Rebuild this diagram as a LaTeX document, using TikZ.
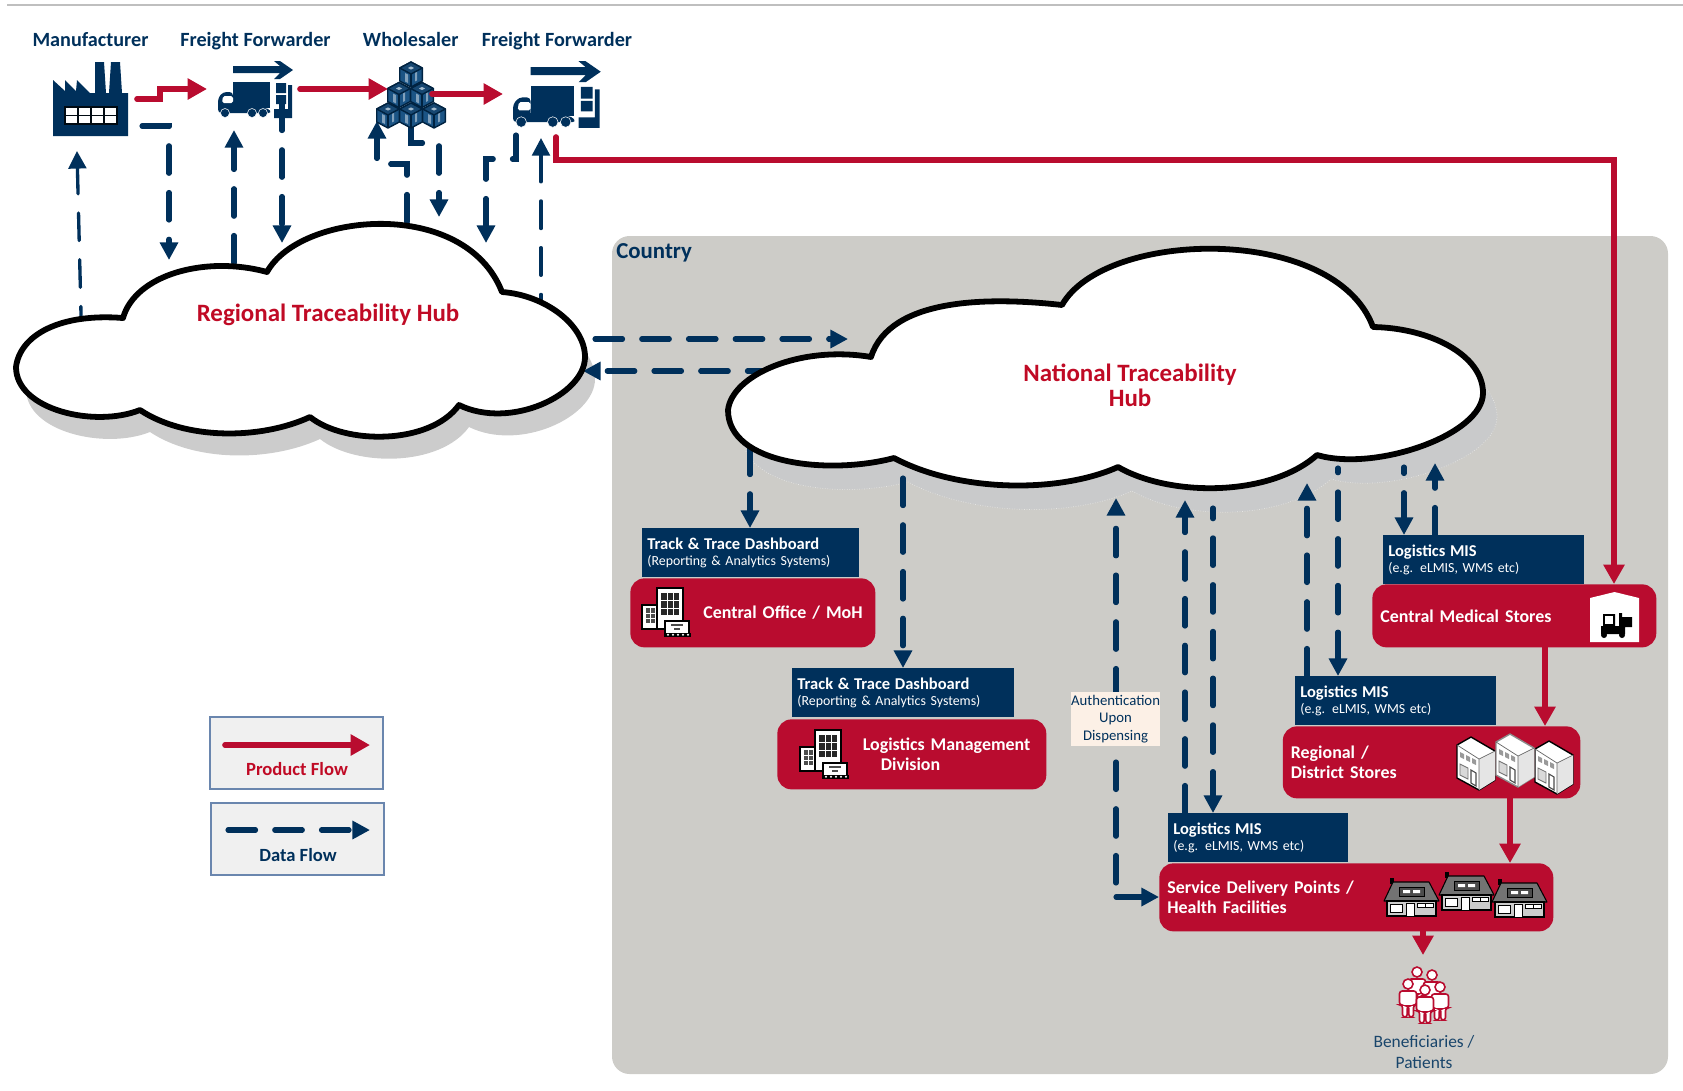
\documentclass[tikz,border=0pt]{standalone}
\usepackage{fontspec}
\setmainfont{Carlito}
\usetikzlibrary{arrows.meta, positioning, calc}
\definecolor{tracenavy}{HTML}{00305B}
\definecolor{tracered}{HTML}{B90C2F}
\definecolor{hubred}{HTML}{C00A25}
\definecolor{panelgrey}{HTML}{CDCCC8}
\definecolor{shadowgrey}{HTML}{C9CACB}
\definecolor{authfill}{HTML}{FCF0E6}
\definecolor{boxblue}{HTML}{1B5485}
\definecolor{legendedge}{HTML}{6A86AE}
\newcommand{\boxhead}[1]{{\fontsize{9.4}{9.6}\selectfont\bfseries #1}}
\newcommand{\regionalcloud}{(16,367) .. controls (20,335) and (60,313) .. (123,318) .. controls (135,275) and (205,255) .. (267,272) .. controls (300,212) and (465,197) .. (502,292) .. controls (545,295) and (585,325) .. (585,357) .. controls (585,395) and (510,430) .. (459,405) .. controls (430,445) and (345,445) .. (310,417) .. controls (260,440) and (185,440) .. (140,410) .. controls (95,428) and (16,410) .. (16,367) -- cycle}
\newcommand{\nationalcloud}{(728,410) .. controls (732,375) and (800,345) .. (871,357) .. controls (890,297) and (990,297) .. (1062,305) .. controls (1105,229) and (1335,224) .. (1373,327) .. controls (1430,328) and (1483,355) .. (1483,393) .. controls (1483,435) and (1375,472) .. (1317,455) .. controls (1270,497) and (1170,497) .. (1118,467) .. controls (1060,493) and (960,493) .. (894,458) .. controls (830,475) and (728,465) .. (728,410) -- cycle}
\tikzset{
  productflow/.style={draw=tracered, line width=3.2pt, line cap=round, -{Triangle[length=11pt,width=11.5pt]}},
  dataflow/.style={draw=tracenavy, line width=2.9pt, line cap=round, dash pattern=on 15.7pt off 10.9pt, -{Triangle[length=10pt,width=10pt]}},
  hubcloud/.style={fill=white, draw=black, line width=3.3pt, line join=round},
  hubtext/.style={text=hubred, font=\fontsize{14.2}{14.4}\selectfont\bfseries, align=center},
  actorlabel/.style={anchor=base, text=tracenavy, font=\fontsize{11.5}{13}\selectfont\bfseries},
  infobox/.style={fill=tracenavy, text=white, inner xsep=0.1cm, inner ysep=0pt, minimum height=0.98cm, text width=#1, align=left, font=\fontsize{7.9}{9.6}\selectfont},
  stagebox/.style={fill=tracered, text=white, rounded corners=8pt, inner xsep=0.16cm, inner ysep=0pt, text width=#1, align=left, font=\fontsize{10.2}{11.2}\selectfont\bfseries},
  legendbox/.style={fill=black!6, draw=legendedge, line width=0.9pt, minimum width=3.46cm, minimum height=1.44cm},
  % building with kiosk
  officeicon/.pic={
    \draw[fill=white, line width=0.7pt] (15,0) rectangle (41,41);
    \fill[black!85] (19,5) rectangle (37,27);
    \foreach \gx in {25,31} \draw[white, line width=0.4pt] (\gx,5) -- (\gx,27);
    \foreach \gy in {12,20} \draw[white, line width=0.4pt] (19,\gy) -- (37,\gy);
    \draw[fill=white, line width=0.7pt] (0,17) rectangle (15,41);
    \fill[black!70] (4,20) rectangle (13,35);
    \draw[white, line width=0.3pt] (8.5,20) -- (8.5,35) (4,25) -- (13,25) (4,30) -- (13,30);
    \draw[fill=white, line width=0.7pt] (23,33) rectangle (47,46);
    \draw[black!70, line width=0.9pt] (29,37) -- (41,37) (32,41) -- (38,41);
    \fill[black] (22,45) rectangle (49,49);
    \foreach \gx in {26,31,36,41,46} \fill[white] (\gx,46.7) circle (1.1);
  },
  % lorry with forklift
  truckicon/.pic={
    \fill[tracenavy] (15,6) -- (62,6) -- (56,1) -- (62,1) -- (75,10) -- (62,19) -- (56,19) -- (62,13) -- (15,13) -- cycle;
    \fill[tracenavy] (15,22) rectangle (52,48);
    \fill[tracenavy, rounded corners=2pt] (0,53) -- (0,38) -- (5,32) -- (15,32) -- (15,48) -- (50,48) -- (54,53) -- cycle;
    \fill[white, rounded corners=1pt] (5,36) -- (15,36) -- (15,43) -- (4,43) -- cycle;
    \foreach \wx in {7,34,45} \draw[fill=tracenavy, draw=white, line width=0.3pt] (\wx,53) circle (4.5);
    \fill[tracenavy] (58,23) rectangle (68,33) (58,35) rectangle (68,44);
    \fill[tracenavy] (70,25) rectangle (74,58) (56,49) rectangle (74,58);
  },
  % one carton of the stack
  cartonicon/.pic={
    \draw[fill=boxblue, draw=tracenavy!70!black, line width=0.8pt, line join=round] (-11.3,-6) -- (0,-12) -- (11.3,-6) -- (11.3,7) -- (0,13) -- (-11.3,7) -- cycle;
    \draw[fill=boxblue!85!black, draw=tracenavy!70!black, line width=0.8pt, line join=round] (-11.3,-6) -- (0,0) -- (11.3,-6) -- (0,-12) -- cycle;
    \draw[draw=tracenavy!70!black, line width=0.8pt] (0,0) -- (0,13);
    \fill[boxblue!55!white] (-6,-1) -- (-3,0.6) -- (-3,9) -- (-6,7.4) -- cycle;
    \fill[boxblue!55!white] (4,-1) -- (6,-2.1) -- (6,6.4) -- (4,7.4) -- cycle;
    \fill[boxblue!40!white] (-3,-6) -- (0,-7.6) -- (3,-6) -- (0,-4.4) -- cycle;
  },
  % shop building seen from the corner
  shopicon/.pic={
    \draw[fill=white, line width=0.8pt, line join=round] (0,8) -- (14,0) -- (38,14) -- (38,43) -- (22,53) -- (0,41) -- cycle;
    \fill[black!10] (22,22) -- (38,14) -- (38,43) -- (22,53) -- cycle;
    \draw[black!60, line width=0.4pt] (0,8) -- (22,22) -- (38,14) (22,22) -- (22,53);
    \fill[black!40] (3,15) -- (7,17) -- (7,22) -- (3,20) -- cycle (9,18) -- (13,20) -- (13,25) -- (9,23) -- cycle (15,21) -- (19,23) -- (19,28) -- (15,26) -- cycle;
    \draw[black!55, fill=black!15, line width=0.5pt] (3,27) -- (11,31) -- (11,42) -- (3,38) -- cycle;
    \draw[black!70, fill=white, line width=0.6pt] (14,33) -- (19,36) -- (19,49) -- (14,46) -- cycle;
  },
  % clinic with pitched roof
  houseicon/.pic={
    \fill[black] (6,0) rectangle (10,6);
    \draw[fill=black!55, line width=0.6pt, line join=round] (0,23) -- (9,4) -- (45,4) -- (55,23) -- cycle;
    \draw[fill=black!20, line width=0.6pt] (3,23) rectangle (52,38);
    \draw[fill=white, line width=0.5pt] (6,26) rectangle (18,34);
    \draw[fill=white, line width=0.5pt] (22,25) rectangle (30,38);
    \draw[fill=white, line width=0.5pt] (33,25) rectangle (41,29) (41,25) rectangle (49,29);
    \draw[fill=black!70, line width=0.5pt] (15,9) rectangle (40,18);
    \fill[white] (19,12) rectangle (26,15) (29,12) rectangle (36,15);
  },
  % single figure, origin at the head
  personicon/.pic={
    \draw[tracered, fill=white, line width=0.9pt] (0,0) circle (5);
    \draw[tracered, fill=white, line width=0.9pt, rounded corners=1.5pt] (-8.5,7) -- (8.5,7) -- (8.5,21) -- (5.5,21) -- (5.5,33) -- (0.8,33) -- (0.8,22) -- (-0.8,22) -- (-0.8,33) -- (-5.5,33) -- (-5.5,21) -- (-8.5,21) -- cycle;
  }
}
\begin{document}
\begin{tikzpicture}[x=0.02cm, y=-0.02cm]
  \useasboundingbox (0,0) rectangle (1683,1090);

  % top rule
  \coordinate (ruleleft) at (7,5);
  \coordinate (ruleright) at (1683,5);
  \draw[black!25, line width=0.8pt] (ruleleft) -- (ruleright);

  % Country panel
  \fill[panelgrey, rounded corners=10pt] (612,236) rectangle (1668,1074);
  \node[anchor=west, inner sep=0pt, text=tracenavy, font=\fontsize{13}{15}\selectfont\bfseries] (country) at (616,253) {Country};

  % Cloud shadows
  \fill[black!20, shift={(10,22)}] \regionalcloud;
  \draw[fill=shadowgrey, draw=panelgrey!50!white, line width=0.4pt, densely dotted, shift={(14,24)}] \nationalcloud;

  % Data arrows, top row
  \coordinate (mfrdown) at (142,126);
  \coordinate (mfrdowntip) at (169,260);
  \coordinate (mfruptip) at (77,151);
  \coordinate (mfrupend) at (81.5,334);
  \coordinate (firstuptip) at (234,130);
  \coordinate (firstupend) at (234,263);
  \coordinate (firstdown) at (282,103);
  \coordinate (firstdowntip) at (282,243);
  \coordinate (saleuptip) at (377,121);
  \coordinate (saleupend) at (407,222);
  \coordinate (saledown) at (411,127);
  \coordinate (saledowntip) at (439,217);
  \coordinate (seconddown) at (516,135);
  \coordinate (seconddowntip) at (486,243);
  \coordinate (seconduptip) at (541,138);
  \coordinate (secondupend) at (541,322);
  \draw[dataflow, line width=1.9pt] (mfrupend) -- (mfruptip);
  \draw[dataflow] (mfrdown) -- (mfrdown -| mfrdowntip) -- (mfrdowntip);
  \draw[dataflow] (firstupend) -- (firstuptip);
  \draw[dataflow] (firstdown) -- (firstdowntip);
  \draw[dataflow] (saleupend) -- (407,164) -- (377,164) -- (saleuptip);
  \draw[dataflow] (saledown) -- (411,143) -- (439,143) -- (saledowntip);
  \draw[dataflow] (seconddown) -- (516,159) -- (486,159) -- (seconddowntip);
  \draw[dataflow, line width=1.9pt] (secondupend) -- (seconduptip);

  % Data arrows between the hubs
  \coordinate (hubeastout) at (595,339);
  \coordinate (hubeasttip) at (848,339);
  \coordinate (hubwestout) at (775,371);
  \coordinate (hubwesttip) at (583,371);
  \draw[dataflow] (hubeastout) -- (hubeasttip);
  \draw[dataflow] (hubwestout) -- (hubwesttip);

  % Boxes under the national hub
  \node[infobox=4.14cm, anchor=north west] (mohdash) at (642,528) {\boxhead{Track \& Trace Dashboard}\\(Reporting \& Analytics Systems)};
  \node[stagebox=4.58cm, minimum height=1.38cm, anchor=north west] (moh) at (630,578) {\hspace*{1.3cm}Central Office / MoH};
  \node[infobox=4.24cm, anchor=north west] (lmddash) at (792,668) {\boxhead{Track \& Trace Dashboard}\\(Reporting \& Analytics Systems)};
  \node[stagebox=5.06cm, minimum height=1.4cm, anchor=north west] (lmd) at (777,719) {\hspace*{1.55cm}Logistics Management\\\hspace*{1.91cm}Division};
  \node[infobox=3.82cm, anchor=north west] (cmsmis) at (1383,535) {\boxhead{Logistics MIS}\\(e.g. eLMIS, WMS etc)};
  \node[stagebox=5.36cm, minimum height=1.26cm, anchor=north west] (cms) at (1372,584) {Central Medical Stores};
  \node[infobox=3.82cm, anchor=north west] (storesmis) at (1295,676) {\boxhead{Logistics MIS}\\(e.g. eLMIS, WMS etc)};
  \node[stagebox=5.63cm, minimum height=1.44cm, anchor=north west] (stores) at (1282.5,726) {Regional /\\District Stores};
  \node[infobox=3.4cm, anchor=north west] (sdpmis) at (1168,813) {\boxhead{Logistics MIS}\\(e.g. eLMIS, WMS etc)};
  \node[stagebox=7.56cm, minimum height=1.36cm, anchor=north west] (sdp) at (1159,863) {Service Delivery Points /\\Health Facilities};

  % Data arrows, national level
  \coordinate (mohfeed) at (750,447);
  \coordinate (lmdfeed) at (903,478);
  \coordinate (authtip) at (1116,498);
  \coordinate (authstart) at (1116,883);
  \coordinate (authcorner) at (1116,897);
  \coordinate (sdpuptip) at (1185,500);
  \coordinate (sdpdown) at (1213,508);
  \coordinate (storesuptip) at (1307,483);
  \coordinate (storesdown) at (1338,468);
  \coordinate (cmsdown) at (1404,467);
  \coordinate (cmsuptip) at (1435,463);
  \draw[dataflow] (mohfeed) -- (mohfeed |- mohdash.north);
  \draw[dataflow] (lmdfeed) -- (lmdfeed |- lmddash.north);
  \draw[dataflow] (authstart) -- (authtip);
  \draw[dataflow, solid] (authcorner) -- (authcorner -| sdp.west);
  \draw[dataflow] (sdpuptip |- sdpmis.north) -- (sdpuptip);
  \draw[dataflow, dash phase=9.6pt] (sdpdown) -- (sdpdown |- sdpmis.north);
  \draw[dataflow] (storesuptip |- storesmis.north) -- (storesuptip);
  \draw[dataflow, dash phase=13pt] (storesdown) -- (storesdown |- storesmis.north);
  \draw[dataflow, dash phase=12pt] (cmsdown) -- (cmsdown |- cmsmis.north);
  \draw[dataflow] (cmsuptip |- cmsmis.north) -- (cmsuptip);

  % Regional hub
  \draw[hubcloud] \regionalcloud;
  \node[hubtext] (regionalhub) at (328,315) {Regional Traceability Hub};

  % National hub
  \draw[hubcloud] \nationalcloud;
  \node[hubtext] (nationalhub) at (1130,385) {National Traceability\\Hub};

  % Authentication note
  \node[fill=authfill, text=tracenavy, inner sep=0pt, minimum width=1.74cm, minimum height=1.08cm, align=center, font=\fontsize{8.4}{10}\selectfont] (authnote) at (1115.5,719) {Authentication\\Upon\\Dispensing};

  % Top row labels
  \node[actorlabel] (mfrlabel) at (90.5,46) {Manufacturer};
  \node[actorlabel] (firstlabel) at (255.5,46) {Freight Forwarder};
  \node[actorlabel] (salelabel) at (410.7,46) {Wholesaler};
  \node[actorlabel] (secondlabel) at (557,46) {Freight Forwarder};

  % Factory
  \fill[tracenavy] (53,136) -- (53,80) -- (65,91) -- (65,80) -- (76,91) -- (77,80) -- (90,93) -- (95,93) -- (95,62) -- (104,62) -- (106,93) -- (109,93) -- (111,62) -- (120,62) -- (122,93) -- (128,93) -- (128,136) -- cycle;
  \draw[black!80!tracenavy, fill=white, line width=0.8pt] (65,107) rectangle (117,124);
  \draw[black!80!tracenavy, line width=0.6pt] (65,115.5) -- (117,115.5) (78,107) -- (78,124) (91,107) -- (91,124) (104,107) -- (104,124);

  % Lorries
  \pic at (218,60) {truckicon};
  \pic[scale=1.17] at (513,60) {truckicon};

  % Carton stack
  \pic at (411,74) {cartonicon};
  \pic at (399,94.5) {cartonicon};
  \pic at (422,94.5) {cartonicon};
  \pic at (388,115) {cartonicon};
  \pic at (411,115) {cartonicon};
  \pic at (434,115) {cartonicon};

  % Product arrows
  \coordinate (mfrout) at (137,99);
  \coordinate (firstin) at (207,89);
  \coordinate (firstout) at (300,89);
  \coordinate (salein) at (388,89);
  \coordinate (saleout) at (432,94);
  \coordinate (secondin) at (503,94);
  \coordinate (secondout) at (556,137);
  \coordinate (cmscorner) at (1614,160);
  \coordinate (cmsdrop) at (1545,647);
  \coordinate (storesdrop) at (1510,798);
  \coordinate (sdpdrop) at (1423,931);
  \coordinate (patienttip) at (1423,955);
  \draw[productflow] (mfrout) -- (160,99) -- (160,89) -- (firstin);
  \draw[productflow] (firstout) -- (salein);
  \draw[productflow] (saleout) -- (secondin);
  \draw[productflow] (secondout) -- (secondout |- cmscorner) -- (cmscorner) -- (cmscorner |- cms.north);
  \draw[productflow] (cmsdrop |- cms.south) -- (cmsdrop |- stores.north);
  \draw[productflow] (storesdrop |- stores.south) -- (storesdrop |- sdp.north);
  \draw[productflow] (sdpdrop |- sdp.south) -- (patienttip);

  % Icons in the red boxes
  \pic at (642,588) {officeicon};
  \pic at (800,730) {officeicon};
  \fill[white] (1590,642) -- (1590,598) -- (1614.5,592) -- (1639,598) -- (1639,642) -- cycle;
  \fill[black] (1603,614) rectangle (1615,626) (1601,626) rectangle (1625,634) (1619,613) rectangle (1622,631) (1622,617) rectangle (1632,627);
  \fill[white] (1605,616) rectangle (1613,624);
  \fill[black] (1604,635) circle (3) (1622,635) circle (3);
  \pic at (1457,737) {shopicon};
  \pic at (1535,741) {shopicon};
  \pic[color=black!45] at (1496,734) {shopicon};
  \pic at (1384,878) {houseicon};
  \pic at (1492,879) {houseicon};
  \pic at (1439,872) {houseicon};

  % Beneficiaries
  \pic at (1417,972) {personicon};
  \pic at (1432,975) {personicon};
  \pic at (1408,984) {personicon};
  \pic at (1440,987) {personicon};
  \pic at (1425,990) {personicon};
  \node[text=tracenavy!90, align=center, font=\fontsize{9.9}{12.4}\selectfont] (patients) at (1424,1052) {Beneficiaries /\\Patients};

  % Legend
  \node[legendbox] (productbox) at (296.5,753) {};
  \node[legendbox] (databox) at (297.5,839) {};
  \coordinate (productstart) at (225,745);
  \coordinate (productend) at (370,745);
  \coordinate (datastart) at (228,830);
  \coordinate (dataend) at (370,830);
  \draw[productflow] (productstart) -- (productend);
  \draw[dataflow] (datastart) -- (dataend);
  \node[text=hubred, font=\fontsize{10.6}{12}\selectfont\bfseries] (producttext) at (297,769) {Product Flow};
  \node[text=tracenavy, font=\fontsize{10.6}{12}\selectfont\bfseries] (datatext) at (298,855) {Data Flow};
\end{tikzpicture}
\end{document}
